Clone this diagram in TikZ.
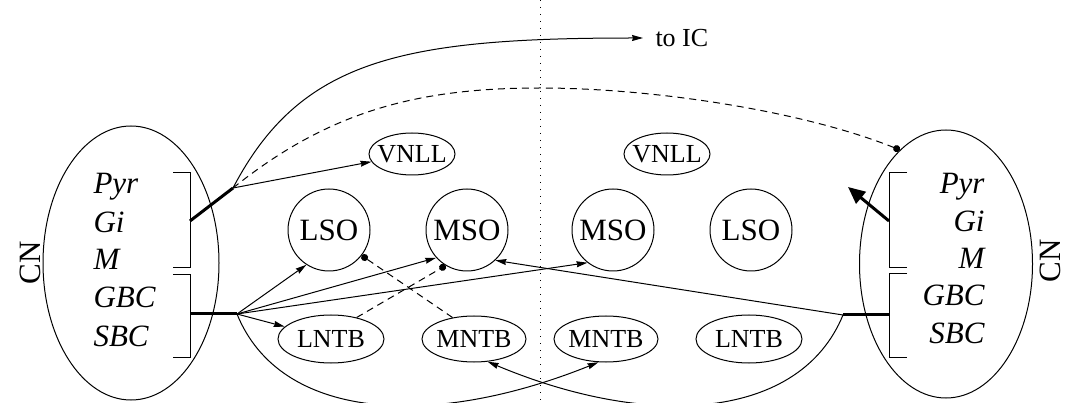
\documentclass[tikz,border=0pt]{standalone}
\usepackage{fontspec}
\setmainfont{Liberation Serif}
\usetikzlibrary{shapes.geometric,arrows.meta,positioning,calc}

\begin{document}
\begin{tikzpicture}[x=1pt, y=-1pt, line width=1pt, >={Stealth[length=11pt, width=6pt, inset=1pt]}]
    \tikzset{
        cn/.style={draw, ellipse, inner sep=0pt, minimum width=176pt, minimum height=274pt},
        nucleus/.style={draw, circle, inner sep=0pt, minimum size=82pt, font=\fontsize{31}{37}\selectfont},
        oval/.style={draw, ellipse, inner xsep=-8pt, inner ysep=0pt, minimum width=106pt, minimum height=48pt, font=\fontsize{26}{31}\selectfont},
        cell/.style={inner sep=0pt, font=\fontsize{31}{37}\selectfont\itshape},
        side/.style={rotate=90, inner sep=0pt, font=\fontsize{31}{37}\selectfont},
        inhib/.style={dash pattern=on 7pt off 5pt, -{Circle[length=7pt]}},
        tract/.style={line width=3pt}
    }
    \useasboundingbox (0,0) rectangle (1071,403);

    % midline
    \coordinate (top) at (540,0);
    \coordinate (bot) at (540,403);
    \draw[dash pattern=on 1pt off 6pt] (top) -- (bot);

    % left CN
    \node[cn] (cnL) at (131,263) {};
    \node[side] (cnlabL) at (30,263) {CN};
    \node[cell, anchor=base west] (pyrL) at (93,194) {Pyr};
    \node[cell, anchor=base west] (giL) at (93,233) {Gi};
    \node[cell, anchor=base west] (mL) at (93,270) {M};
    \node[cell, anchor=base west] (gbcL) at (93,308) {GBC};
    \node[cell, anchor=base west] (sbcL) at (93,346) {SBC};
    \draw (173,173) -- (190,173) -- (190,268) -- (173,268);
    \draw (173,275) -- (190,275) -- (190,357) -- (173,357);
    \coordinate (brL1) at (190,221);
    \coordinate (brL2) at (190,314);
    \coordinate (fanL1) at (233,188);
    \coordinate (fanL2) at (237,314);
    \draw[tract] (brL1) -- (fanL1);
    \draw[tract] (brL2) -- (fanL2);

    % right CN
    \node[cn, minimum width=173pt, minimum height=268pt] (cnR) at (946,264) {};
    \node[side] (cnlabR) at (1050,261) {CN};
    \node[cell, anchor=base east] (pyrR) at (985,194) {Pyr};
    \node[cell, anchor=base east] (giR) at (985,232) {Gi};
    \node[cell, anchor=base east] (mR) at (985,269) {M};
    \node[cell, anchor=base east] (gbcR) at (985,306) {GBC};
    \node[cell, anchor=base east] (sbcR) at (985,343) {SBC};
    \draw (907,173) -- (889,173) -- (889,268) -- (907,268);
    \draw (907,274) -- (889,274) -- (889,357) -- (907,357);
    \coordinate (brR1) at (889,221);
    \coordinate (brR2) at (889,315);
    \coordinate (outR) at (848,187);
    \coordinate (fanR2) at (843,315);
    \draw[tract, -{Triangle[length=17pt, width=15pt]}] (brR1) -- (outR);
    \draw[tract] (brR2) -- (fanR2);

    % nuclei
    \node[oval, minimum width=86pt, minimum height=42pt] (vnllL) at (412,154) {VNLL};
    \node[oval, minimum width=86pt, minimum height=42pt] (vnllR) at (667,154) {VNLL};
    \node[nucleus] (lsoL) at (329,230) {LSO};
    \node[nucleus] (msoL) at (467,230) {MSO};
    \node[nucleus] (msoR) at (613,230) {MSO};
    \node[nucleus] (lsoR) at (751,230) {LSO};
    \node[oval] (lntbL) at (331,339) {LNTB};
    \node[oval, minimum width=104pt, minimum height=46pt] (mntbL) at (474,339) {MNTB};
    \node[oval, minimum width=104pt, minimum height=46pt] (mntbR) at (606,339) {MNTB};
    \node[oval] (lntbR) at (749,339) {LNTB};
    \node[anchor=west, inner xsep=12pt, inner ysep=0pt, font=\fontsize{26}{31}\selectfont] (toic) at (643,38) {to IC};

    % upper fan
    \draw[->] (fanL1) -- (vnllL);
    \draw[->] (fanL1) .. controls (300,60) and (400,38) .. (toic.west);
    \draw[inhib] (fanL1) .. controls (330,110) and (420,88) .. (540,88)
        .. controls (650,88) and (800,110) .. (cnR.112);

    % lower fan, left
    \draw[->] (fanL2) -- (lsoL.237);
    \draw[->] (fanL2) -- (msoL.222);
    \draw[->] (fanL2) -- (msoR.232);
    \draw[->] (fanL2) -- (lntbL);
    \draw[->] (fanL2) .. controls (280,420) and (430,430) .. (mntbR.252);

    % lower fan, right
    \draw[->] (fanR2) -- (msoL.313);
    \draw[->] (fanR2) .. controls (800,420) and (650,430) .. (mntbL.301);

    % inhibition
    \draw[inhib] (lntbL.40) -- (msoL.239);
    \draw[inhib] (mntbL.135) -- (lsoL.322);
\end{tikzpicture}
\end{document}
